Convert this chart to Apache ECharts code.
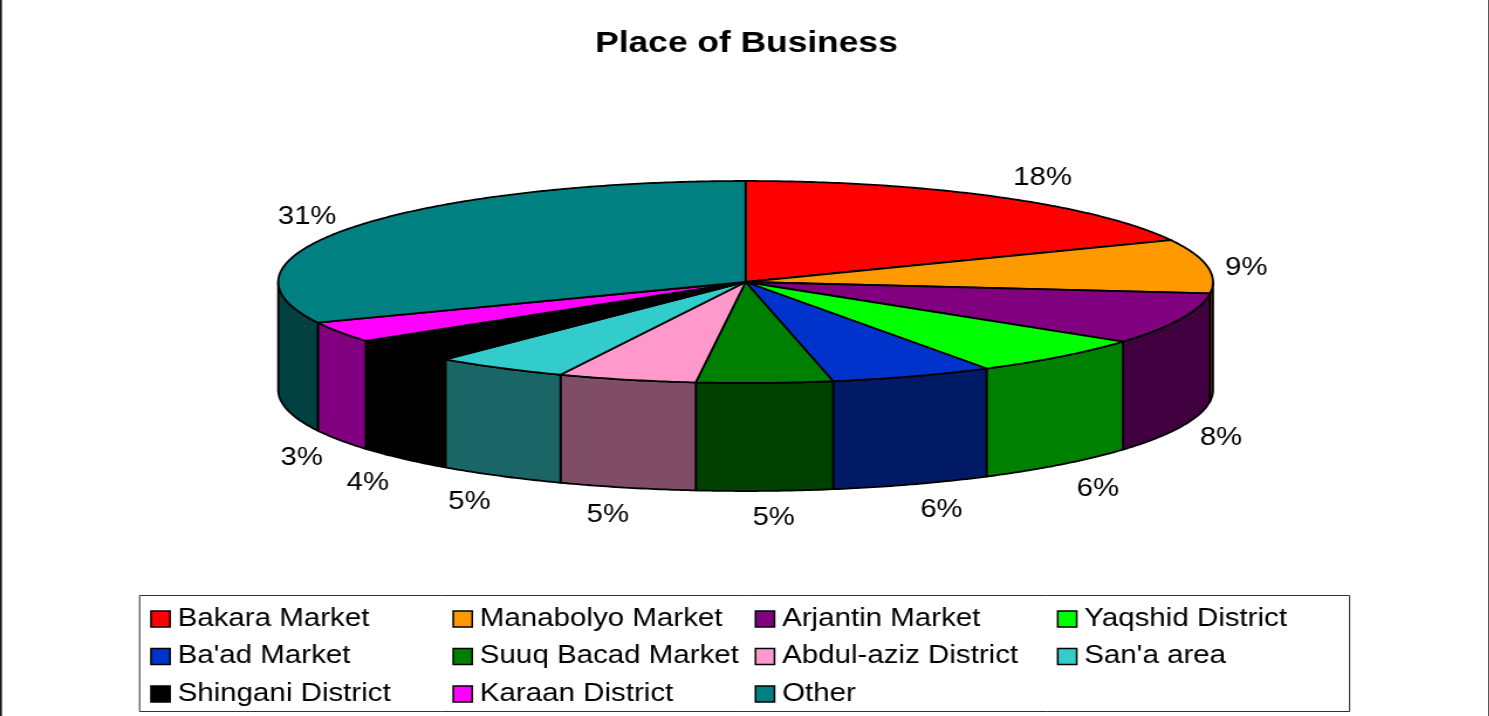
<!DOCTYPE html>
<html>
<head>
<meta charset="utf-8">
<script src="https://cdn.jsdelivr.net/npm/echarts@6/dist/echarts.min.js"></script>
<style>
html,body{margin:0;padding:0;background:#fff;overflow:hidden}
#stage{position:absolute;left:0;top:0;height:716px;transform-origin:0 0}
</style>
</head>
<body>
<div id="stage"></div>
<script>
// ---- data ----
var categories = ['Bakara Market','Manabolyo Market','Arjantin Market','Yaqshid District','Ba\'ad Market','Suuq Bacad Market','Abdul-aziz District','San\'a area','Shingani District','Karaan District','Other'];
var shares = [18.2,8.6,8.25,6.33,5.62,4.7,4.78,4.62,4.0,3.3,31.6];
var shareLabels = ['18%','9%','8%','6%','6%','5%','5%','5%','4%','3%','31%'];
var colors = ['#FF0000','#FF9900','#800080','#00FF00','#0033CC','#008000','#FF99CC','#33CCCC','#000000','#FF00FF','#008080'];

// ---- layout, in reference pixels (the source picture is stretched sideways) ----
var STRETCH = 1.17;
var W = 1489, H = 716;
var PIE = {cx:745, cy:282, rx:467, ry:101, depth:108};
var labelNudge = [[44,-19],[39,2],[40,11],[37,25],[29,26],[9,27],[-19,27],[-31,26],[-35,24],[-38,18],[-47,-10]];
var legendColumns = [150,452,754,1056];
var FONT = '"Liberation Sans", Arial, sans-serif';

function sx(x){ return x / STRETCH; }
function halve(hex){
  var n = parseInt(hex.slice(1),16);
  var c = [(n>>16)&255,(n>>8)&255,n&255].map(function(v){return Math.round(v/2);});
  return 'rgb('+c.join(',')+')';
}
var total = shares.reduce(function(a,b){return a+b;},0);
var starts = [];
shares.reduce(function(acc,v,i){ starts[i]=acc; return acc+v; },0);

function rim(t, drop){
  return [sx(PIE.cx + PIE.rx*Math.sin(t)), PIE.cy - PIE.ry*Math.cos(t) + (drop||0)];
}
function arc(a,b,drop){
  var n = Math.max(2, Math.ceil((b-a)/0.01)), pts = [];
  for (var k=0;k<=n;k++) pts.push(rim(a+(b-a)*k/n, drop));
  return pts;
}
function renderSlice(i, api){
  var value = api.value(0);
  var a = starts[i]/total*2*Math.PI, b = a + value/total*2*Math.PI;
  var children = [];
  var fa = Math.max(a, Math.PI/2), fb = Math.min(b, 1.5*Math.PI);
  if (fb > fa){
    children.push({type:'polygon', shape:{points: arc(fa,fb,0).concat(arc(fa,fb,PIE.depth).reverse())},
      style:{fill:halve(colors[i]), stroke:'#000', lineWidth:1.8, lineJoin:'round'}});
  }
  children.push({type:'polygon', shape:{points: [[sx(PIE.cx),PIE.cy]].concat(arc(a,b,0))},
    style:{fill:colors[i], stroke:'#000', lineWidth:1.8, lineJoin:'round'}});
  var m = (a+b)/2;
  var p = rim(m, Math.cos(m) < 0 ? PIE.depth : 0);
  children.push({type:'text', z2:10, style:{
    x:p[0]+sx(labelNudge[i][0]), y:p[1]+labelNudge[i][1],
    text:shareLabels[i], fill:'#000', font:'25px '+FONT, textAlign:'center', textVerticalAlign:'middle'}});
  return {type:'group', children:children};
}

var series = categories.map(function(name,i){
  return {type:'custom', name:name, coordinateSystem:'none', silent:true,
    itemStyle:{color:colors[i]}, data:[[shares[i]]],
    renderItem:function(params,api){ return renderSlice(i,api); }};
});

var legends = legendColumns.map(function(x,c){
  return {orient:'vertical', left:sx(x), top:605, itemWidth:sx(19), itemHeight:16, itemGap:9.5,
    padding:0, selectedMode:false, icon:'rect',
    itemStyle:{borderColor:'#000', borderWidth:1.5},
    textStyle:{fontFamily:FONT, fontSize:25.2, color:'#000', padding:[0,0,0,1.5], lineHeight:28},
    data:categories.filter(function(n,i){return i%4===c;})};
});

var stage = document.getElementById('stage');
stage.style.width = sx(W)+'px';
stage.style.transform = 'scaleX('+STRETCH+')';
var chart = echarts.init(stage, null, {width:sx(W), height:H});
chart.setOption({
  animation:false,
  backgroundColor:'#fff',
  title:{text:'Place of Business', left:sx(740), top:24, textAlign:'center',
    textStyle:{fontFamily:FONT, fontWeight:'bold', fontSize:30.2, color:'#000'}},
  legend:legends,
  graphic:[
    {type:'rect', silent:true, z:-1, shape:{x:sx(139.5),y:595.5,width:sx(1209),height:116}, style:{fill:'#fff',stroke:'#333',lineWidth:1}},
    {type:'line', silent:true, shape:{x1:sx(1),y1:0,x2:sx(1),y2:H}, style:{stroke:'#000',lineWidth:1.5}},
    {type:'line', silent:true, shape:{x1:sx(1488),y1:0,x2:sx(1488),y2:H}, style:{stroke:'#000',lineWidth:1.5}}
  ],
  series:series
});
</script>
</body>
</html>
